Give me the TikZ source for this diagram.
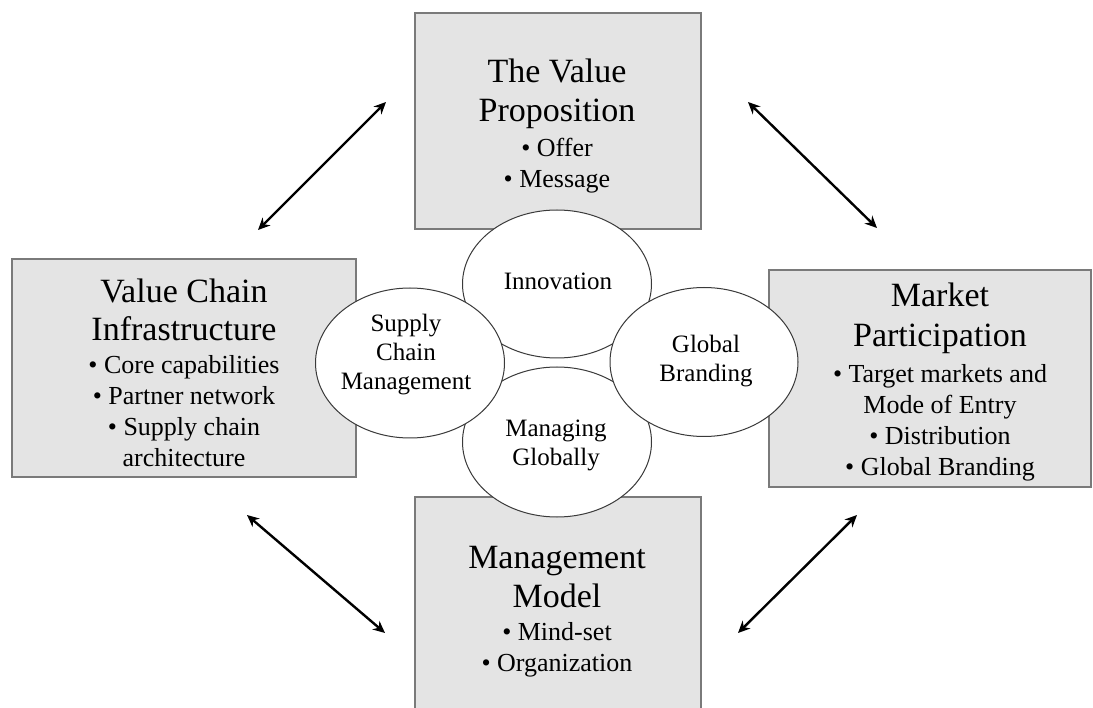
\documentclass[tikz,border=0pt]{standalone}
\usepackage{fontspec}
\setmainfont{Liberation Serif}
\usetikzlibrary{arrows.meta,shapes.geometric}
\definecolor{boxfill}{HTML}{E4E4E4}
\definecolor{boxborder}{HTML}{7A7A7A}
\definecolor{ellborder}{HTML}{3A3A3A}
\newcommand\ttlfont{\fontsize{34}{39}\selectfont}
\newcommand\bulfont{\fontsize{26}{31}\selectfont}
\newcommand\ellfont{\fontsize{25}{29}\selectfont}
\tikzset{
  x=1pt, y=-1pt,
  panel/.style={draw=boxborder, fill=boxfill, line width=1.6pt, inner sep=0pt},
  paneltext/.style={align=center, inner sep=0pt, text=black, font=\bulfont},
  bubble/.style={ellipse, draw=ellborder, fill=white, line width=1pt, inner sep=0pt},
  bubbletext/.style={align=center, inner sep=0pt, font=\ellfont},
  twoway/.style={line width=2.4pt, {Stealth[length=12pt,width=11pt]}-{Stealth[length=12pt,width=11pt]}}
}
\begin{document}
\begin{tikzpicture}
\clip (0,0) rectangle (1093,708);
\fill[white] (0,0) rectangle (1093,708);

% boxes
\node[panel, minimum width=286pt, minimum height=216pt] (vpbox) at (558,121) {};
\node[panel, minimum width=344pt, minimum height=218pt] (vcbox) at (184,368) {};
\node[panel, minimum width=322pt, minimum height=217pt] (mpbox) at (930,378.5) {};
\node[panel, minimum width=286pt, minimum height=243pt] (mmbox) at (558,618.5) {};

% box texts
\node[paneltext] (vptext) at (557,126) {\ttlfont The Value\\[8pt] \ttlfont Proposition\\[4pt] \textbullet\ Offer\\ \textbullet\ Message};
\node[paneltext] (vctext) at (184,373) {\ttlfont Value Chain\\[7pt] \ttlfont Infrastructure\\[2pt] \textbullet\ Core capabilities\\ \textbullet\ Partner network\\ \textbullet\ Supply chain\\ architecture};
\node[paneltext] (mptext) at (940,382) {\ttlfont Market\\[9pt] \ttlfont Participation\\[5pt] \textbullet\ Target markets and\\ Mode of Entry\\ \textbullet\ Distribution\\ \textbullet\ Global Branding};
\node[paneltext] (mmtext) at (557,612) {\ttlfont Management\\[8pt] \ttlfont Model\\[2pt] \textbullet\ Mind-set\\ \textbullet\ Organization};

% ellipses
\node[bubble, minimum width=189pt, minimum height=148pt] (inno) at (557,284) {};
\node[bubble, minimum width=189pt, minimum height=150pt] (mg) at (557,442) {};
\node[bubble, minimum width=189pt, minimum height=150pt] (scm) at (410,363) {};
\node[bubble, minimum width=188pt, minimum height=149pt] (gb) at (704,362) {};

\node[bubbletext] (innot) at (558,281) {Innovation};
\node[bubbletext] (scmt) at (406,355) {Supply\\ Chain\\ Management};
\node[bubbletext] (gbt) at (706,361) {Global\\ Branding};
\node[bubbletext] (mgt) at (556,445) {Managing\\ Globally};

% arrows
\coordinate (a1s) at (258,230);
\coordinate (a1e) at (386,102);
\coordinate (a2s) at (748,102);
\coordinate (a2e) at (877,228);
\coordinate (a3s) at (247,515);
\coordinate (a3e) at (385,633);
\coordinate (a4s) at (738,633);
\coordinate (a4e) at (857,515);
\draw[twoway] (a1s) -- (a1e);
\draw[twoway] (a2s) -- (a2e);
\draw[twoway] (a3s) -- (a3e);
\draw[twoway] (a4s) -- (a4e);
\end{tikzpicture}
\end{document}
